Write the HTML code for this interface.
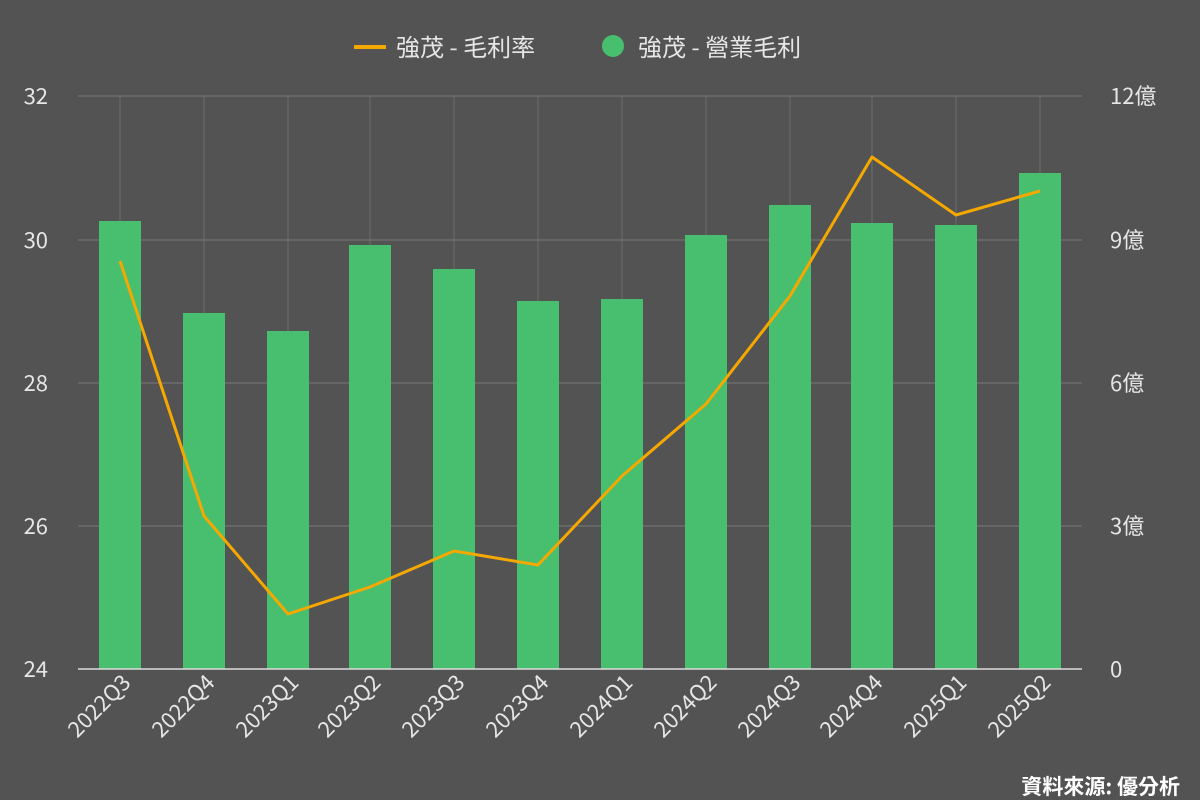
<!DOCTYPE html>
<html><head><meta charset="utf-8">
<style>
html,body{margin:0;padding:0;background:#535353;}
svg{display:block;font-family:"Noto Sans CJK TC","Liberation Sans",sans-serif;}
</style></head>
<body>
<svg width="1200" height="800" viewBox="0 0 1200 800" xmlns="http://www.w3.org/2000/svg">
<rect width="1200" height="800" fill="#535353"/>
<g stroke="#7a7a7a" stroke-width="1">
<line x1="78" y1="96" x2="1082" y2="96"/>
<line x1="78" y1="240" x2="1082" y2="240"/>
<line x1="78" y1="383" x2="1082" y2="383"/>
<line x1="78" y1="526" x2="1082" y2="526"/>
</g>
<g stroke="#6e6e6e" stroke-width="1">
<line x1="120" y1="96" x2="120" y2="669"/>
<line x1="204" y1="96" x2="204" y2="669"/>
<line x1="288" y1="96" x2="288" y2="669"/>
<line x1="370" y1="96" x2="370" y2="669"/>
<line x1="454" y1="96" x2="454" y2="669"/>
<line x1="538" y1="96" x2="538" y2="669"/>
<line x1="622" y1="96" x2="622" y2="669"/>
<line x1="706" y1="96" x2="706" y2="669"/>
<line x1="790" y1="96" x2="790" y2="669"/>
<line x1="872" y1="96" x2="872" y2="669"/>
<line x1="956" y1="96" x2="956" y2="669"/>
<line x1="1040" y1="96" x2="1040" y2="669"/>
</g>
<g fill="#48bf6e">
<rect x="99" y="221" width="42" height="448"/>
<rect x="183" y="313" width="42" height="356"/>
<rect x="267" y="331" width="42" height="338"/>
<rect x="349" y="245" width="42" height="424"/>
<rect x="433" y="269" width="42" height="400"/>
<rect x="517" y="301" width="42" height="368"/>
<rect x="601" y="299" width="42" height="370"/>
<rect x="685" y="235" width="42" height="434"/>
<rect x="769" y="205" width="42" height="464"/>
<rect x="851" y="223" width="42" height="446"/>
<rect x="935" y="225" width="42" height="444"/>
<rect x="1019" y="173" width="42" height="496"/>
</g>
<line x1="78" y1="669" x2="1082" y2="669" stroke="#dddddd" stroke-width="1.5"/>
<polyline fill="none" stroke="#f5a800" stroke-width="3" stroke-linejoin="round"
points="120,261 204,516 288,614 370,587 454,551 538,565 622,476 706,404 790,296 872,157 956,215 1040,191"/>
<g fill="#e6e6e6" font-size="22" text-anchor="end">
<text x="48" y="104">32</text>
<text x="48" y="248">30</text>
<text x="48" y="391">28</text>
<text x="48" y="534">26</text>
<text x="48" y="677">24</text>
</g>
<g fill="#e6e6e6" font-size="22" text-anchor="start">
<text x="1110" y="104">12億</text>
<text x="1110" y="248">9億</text>
<text x="1110" y="391">6億</text>
<text x="1110" y="534">3億</text>
<text x="1110" y="677">0</text>
</g>
<g fill="#e6e6e6" font-size="22" text-anchor="end">
<text transform="translate(132,684) rotate(-45)">2022Q3</text>
<text transform="translate(216,684) rotate(-45)">2022Q4</text>
<text transform="translate(300,684) rotate(-45)">2023Q1</text>
<text transform="translate(382,684) rotate(-45)">2023Q2</text>
<text transform="translate(466,684) rotate(-45)">2023Q3</text>
<text transform="translate(550,684) rotate(-45)">2023Q4</text>
<text transform="translate(634,684) rotate(-45)">2024Q1</text>
<text transform="translate(718,684) rotate(-45)">2024Q2</text>
<text transform="translate(802,684) rotate(-45)">2024Q3</text>
<text transform="translate(884,684) rotate(-45)">2024Q4</text>
<text transform="translate(968,684) rotate(-45)">2025Q1</text>
<text transform="translate(1052,684) rotate(-45)">2025Q2</text>
</g>
<line x1="354" y1="47" x2="386" y2="47" stroke="#f5a800" stroke-width="4"/>
<text x="396" y="56" fill="#e6e6e6" font-size="24">強茂 - 毛利率</text>
<circle cx="613" cy="46" r="11" fill="#48bf6e"/>
<text x="638" y="56" fill="#e6e6e6" font-size="24">強茂 - 營業毛利</text>
<text x="1180" y="794" fill="#ffffff" font-size="21" text-anchor="end" font-weight="bold">資料來源: 優分析</text>
</svg>
</body></html>
